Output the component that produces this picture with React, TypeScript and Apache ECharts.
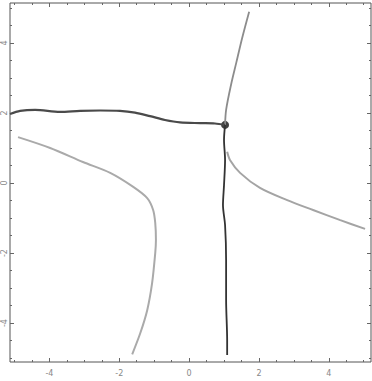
import React, { useEffect, useRef } from "react";
import * as echarts from "echarts";

const xTickLabels = [-4, -2, 0, 2, 4];
const yTickLabels = [-4, -2, 0, 2, 4];
const minorTicks = [-5, -4.5, -4, -3.5, -3, -2.5, -2, -1.5, -1, -0.5, 0, 0.5, 1, 1.5, 2, 2.5, 3, 3.5, 4, 4.5, 5];

const darkLeft: [number, number][] = [
  [-5.13, 1.97], [-4.84, 2.06], [-4.41, 2.09], [-3.7, 2.03], [-3.12, 2.06],
  [-2.55, 2.07], [-1.98, 2.06], [-1.55, 2.01], [-1.12, 1.91], [-0.69, 1.8],
  [-0.26, 1.73], [0.32, 1.71], [0.74, 1.7], [1.03, 1.66],
];
const darkDown: [number, number][] = [
  [1.03, 1.66], [1.0, 1.23], [1.03, 0.66], [1.0, -0.06], [0.97, -0.63],
  [1.03, -1.2], [1.06, -2.2], [1.06, -3.34], [1.09, -4.49], [1.09, -4.91],
];
const grayUp: [number, number][] = [
  [1.03, 1.66], [1.06, 2.09], [1.2, 2.8], [1.35, 3.43], [1.52, 4.14], [1.72, 4.89],
];
const grayRight: [number, number][] = [
  [1.09, 0.89], [1.17, 0.66], [1.46, 0.29], [2.03, -0.14], [2.81, -0.49],
  [3.55, -0.77], [4.33, -1.06], [5.04, -1.31],
];
const grayLeft: [number, number][] = [
  [-4.9, 1.31], [-3.98, 1.0], [-3.04, 0.6], [-2.26, 0.29], [-1.6, -0.11],
  [-1.2, -0.43], [-1.03, -0.77], [-0.97, -1.14], [-0.95, -1.63], [-0.97, -2.0],
  [-1.06, -2.86], [-1.2, -3.63], [-1.4, -4.29], [-1.63, -4.89],
];
const fixedPoint: [number, number][] = [[1.03, 1.66]];

const X_MIN = -5.13, X_MAX = 5.21, Y_MIN = -5.11, Y_MAX = 5.14;

function axis(kind: "x" | "y", position: string, labels: boolean, major: boolean) {
  return {
    type: "value",
    position,
    min: kind === "x" ? X_MIN : Y_MIN,
    max: kind === "x" ? X_MAX : Y_MAX,
    axisLine: { show: false, onZero: false },
    splitLine: { show: false },
    axisTick: {
      show: true,
      inside: true,
      length: major ? 4 : 2,
      customValues: major ? (kind === "x" ? xTickLabels : yTickLabels) : minorTicks,
      lineStyle: { color: "#666", width: 1 },
    },
    axisLabel: {
      show: labels,
      customValues: kind === "x" ? xTickLabels : yTickLabels,
      showMinLabel: true,
      showMaxLabel: true,
      hideOverlap: false,
      fontSize: 8,
      color: "#888",
      fontFamily: "DejaVu Sans",
      margin: kind === "x" ? 7 : 2,
      rotate: kind === "y" ? 90 : 0,
    },
  };
}

export default function App() {
  const ref = useRef<HTMLDivElement>(null);
  useEffect(() => {
    if (!ref.current) return;
    const chart = echarts.init(ref.current, null, { renderer: "svg" });
    const lineS = (data: [number, number][], color: string, width: number) => ({
      type: "line",
      data,
      symbol: "none",
      smooth: 0.3,
      lineStyle: { color, width },
      silent: true,
    });
    chart.setOption({
      animation: false,
      backgroundColor: "#fff",
      grid: {
        left: 10, top: 3, right: 1, bottom: 19,
        show: true, borderColor: "#555", borderWidth: 1, backgroundColor: "transparent",
      },
      xAxis: [
        axis("x", "bottom", true, true),
        axis("x", "bottom", false, false),
        axis("x", "top", false, true),
        axis("x", "top", false, false),
      ],
      yAxis: [
        axis("y", "left", true, true),
        axis("y", "left", false, false),
        axis("y", "right", false, true),
        axis("y", "right", false, false),
      ],
      series: [
        lineS(grayLeft, "#aaaaaa", 2),
        lineS(grayRight, "#a4a4a4", 2),
        lineS(grayUp, "#8c8c8c", 1.8),
        lineS(darkLeft, "#4a4a4a", 2.2),
        lineS(darkDown, "#333", 1.8),
        {
          type: "scatter",
          data: fixedPoint,
          symbolSize: 8,
          itemStyle: { color: "#111" },
          silent: true,
        },
      ],
    });
    return () => chart.dispose();
  }, []);
  return <div ref={ref} style={{ width: 372, height: 381, position: "absolute", left: 0, top: 0 }} />;
}
